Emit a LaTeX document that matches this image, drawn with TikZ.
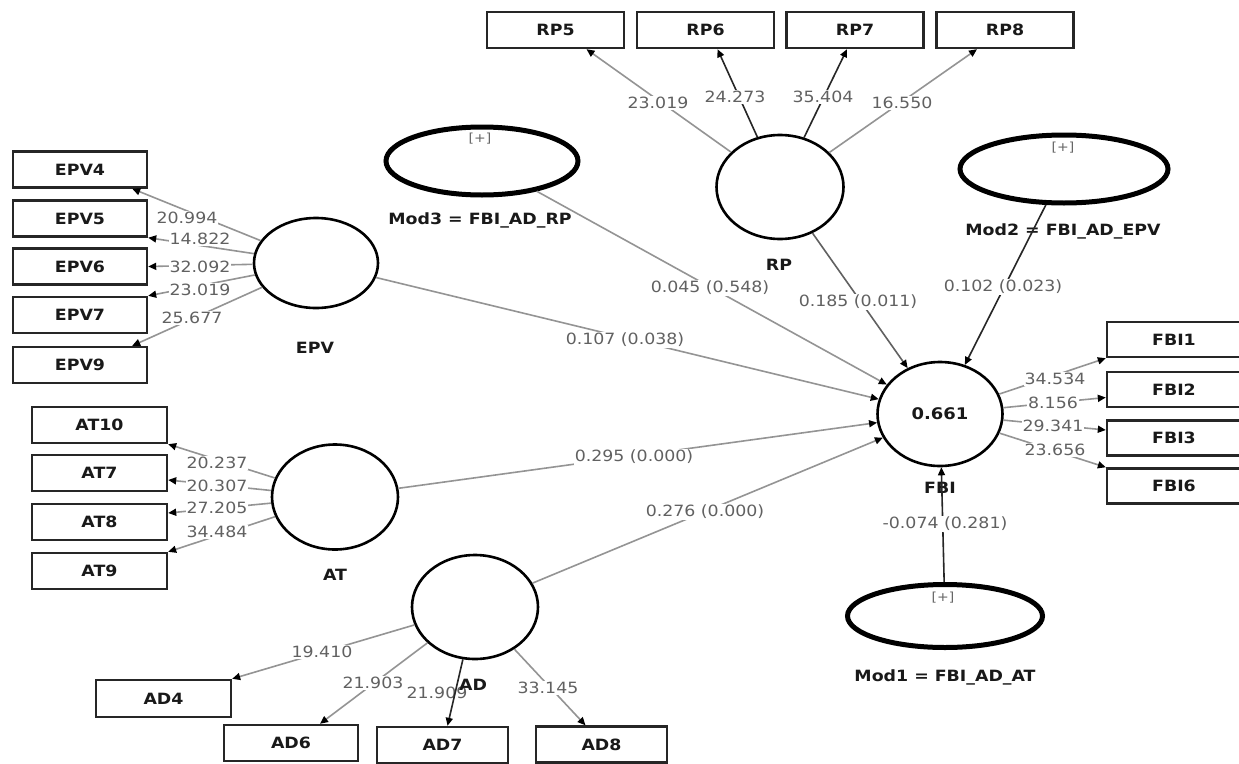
\documentclass[tikz,border=0pt]{standalone}
\usepackage{fontspec}
\setmainfont{DejaVu Sans}[FakeStretch=1.12]
\usetikzlibrary{arrows.meta,shapes.geometric,calc}
\begin{document}
\begin{tikzpicture}[x=1pt,y=-1pt,
  ind/.style={draw=black!85, line width=2.4pt, minimum width=134pt, minimum height=36pt, inner sep=0pt, font=\fontsize{15.5}{18}\selectfont\bfseries, text=black!90},
  lat/.style={ellipse, draw=black, line width=2.6pt, inner sep=0pt},
  moder/.style={ellipse, draw=black, line width=5pt, inner sep=0pt},
  lname/.style={font=\fontsize{15.5}{18}\selectfont\bfseries, text=black!90, inner sep=0pt},
  num/.style={font=\fontsize{15.5}{18}\selectfont, text=black!62, fill=white, inner sep=1pt},
  numnf/.style={font=\fontsize{15.5}{18}\selectfont, text=black!62, inner sep=1pt},
  plus/.style={font=\fontsize{12.5}{13}\selectfont, text=black!60, inner sep=0pt},
  arr/.style={draw=black!42, line width=1.6pt, -{Triangle[length=8pt,width=7pt,color=black]}},
  darr/.style={arr, draw=black!85},
  marr/.style={arr, draw=black!62},
]
\fill[white] (0,0) rectangle (1239,763);
\useasboundingbox (0,0) rectangle (1239,763);

% latent labels (under lines)
\node[lname] (lepv) at (315,348) {EPV};
\node[lname] (lat) at (335,575) {AT};
\node[numnf] (l21909) at (437,693) {21.909};
\node[lname] (lad) at (473,685) {AD};
\node[lname] (lrp) at (779,265) {RP};
\node[lname] (lfbi) at (940,488) {FBI};
\node[lname] (lmod3) at (480,220) {Mod3 = FBI\_AD\_RP};
\node[lname] (lmod2) at (1063,231) {Mod2 = FBI\_AD\_EPV};
\node[lname] (lmod1) at (945,677) {Mod1 = FBI\_AD\_AT};

% indicators
\node[ind] (epv4) at (80,169.5) {EPV4};
\node[ind] (epv5) at (80,218.5) {EPV5};
\node[ind] (epv6) at (80,266.5) {EPV6};
\node[ind] (epv7) at (80,315) {EPV7};
\node[ind] (epv9) at (80,365) {EPV9};
\node[ind,minimum width=135pt] (at10) at (99.5,425) {AT10};
\node[ind,minimum width=135pt] (at7) at (99.5,473) {AT7};
\node[ind,minimum width=135pt] (at8) at (99.5,522) {AT8};
\node[ind,minimum width=135pt] (at9) at (99.5,571) {AT9};
\node[ind,minimum width=137pt] (rp5) at (555.5,30) {RP5};
\node[ind,minimum width=137pt] (rp6) at (705.5,30) {RP6};
\node[ind,minimum width=137pt] (rp7) at (855,30) {RP7};
\node[ind,minimum width=137pt] (rp8) at (1005,30) {RP8};
\node[ind,minimum width=135pt,minimum height=37pt] (ad4) at (163.5,698.5) {AD4};
\node[ind] (ad6) at (291,743) {AD6};
\node[ind,minimum width=131pt] (ad7) at (442.5,745) {AD7};
\node[ind,minimum width=131pt] (ad8) at (601.5,744.5) {AD8};
\node[ind,minimum height=35pt] (fbi1) at (1174,339.5) {FBI1};
\node[ind,minimum height=35pt] (fbi2) at (1174,389.5) {FBI2};
\node[ind,minimum height=35pt] (fbi3) at (1174,438) {FBI3};
\node[ind,minimum height=35pt] (fbi6) at (1174,486) {FBI6};

% constructs
\node[lat,minimum width=124pt,minimum height=90pt] (epv) at (316,263) {};
\node[lat,minimum width=126pt,minimum height=105pt] (at) at (335,497) {};
\node[lat,minimum width=126pt,minimum height=104pt] (ad) at (475,607) {};
\node[lat,minimum width=127pt,minimum height=104pt] (rp) at (780,187) {};
\node[lat,minimum width=125pt,minimum height=104pt,font=\fontsize{16}{18}\selectfont\bfseries,text=black!90] (fbi) at (940,414) {0.661};
\node[moder,minimum width=192pt,minimum height=68pt] (mod3) at (482,161) {};
\node[moder,minimum width=208pt,minimum height=68pt] (mod2) at (1064,169) {};
\node[moder,minimum width=195pt,minimum height=63pt] (mod1) at (945,616) {};
\node[plus] (p3) at (480,139) {[+]};
\node[plus] (p2) at (1063,148) {[+]};
\node[plus] (p1) at (943,598) {[+]};

% loadings
\draw[arr] (epv) -- ($(epv4.south east)+(-16,0)$);
\draw[arr] (epv) -- (epv5.south east);
\draw[arr] (epv) -- (epv6.east);
\draw[arr] (epv) -- (epv7.north east);
\draw[arr] (epv) -- ($(epv9.north east)+(-16,0)$);
\draw[arr] (at) -- (at10.south east);
\draw[arr] (at) -- ($(at7.east)+(0,7)$);
\draw[arr] (at) -- ($(at8.east)+(0,-9)$);
\draw[arr] (at) -- (at9.north east);
\draw[arr] (rp) -- ($(rp5.south)+(31,0)$);
\draw[darr] (rp) -- ($(rp6.south)+(12,0)$);
\draw[darr] (rp) -- ($(rp7.south)+(-8,0)$);
\draw[arr] (rp) -- ($(rp8.south)+(-28,0)$);
\draw[arr] (ad) -- (ad4.north east);
\draw[arr] (ad) -- ($(ad6.north)+(29,0)$);
\draw[darr] (ad) -- ($(ad7.north)+(5,0)$);
\draw[arr] (ad) -- ($(ad8.north)+(-16,0)$);
\draw[arr] (fbi) -- (fbi1.south west);
\draw[arr] (fbi) -- ($(fbi2.west)+(0,8)$);
\draw[arr] (fbi) -- ($(fbi3.west)+(0,-8)$);
\draw[arr] (fbi) -- (fbi6.north west);

% structural paths
\draw[arr] (mod3) -- (fbi);
\draw[arr] (epv) -- (fbi);
\draw[arr] (at) -- (fbi);
\draw[arr] (ad) -- (fbi);
\draw[marr] (rp) -- (fbi);
\draw[darr] (mod2) -- (fbi);
\draw[darr] (mod1) -- (fbi);

% loading values
\node[num] (v1) at (187,218) {20.994};
\node[num] (v2) at (200,239) {14.822};
\node[num] (v3) at (200,267) {32.092};
\node[num] (v4) at (200,290) {23.019};
\node[num] (v5) at (192,318) {25.677};
\node[num] (v6) at (217,463) {20.237};
\node[num] (v7) at (217,486) {20.307};
\node[num] (v8) at (217,508) {27.205};
\node[num] (v9) at (217,532) {34.484};
\node[num] (v10) at (658,103) {23.019};
\node[num] (v11) at (735,97) {24.273};
\node[num] (v12) at (823,97) {35.404};
\node[num] (v13) at (902,103) {16.550};
\node[num] (v14) at (322,652) {19.410};
\node[num] (v15) at (373,683) {21.903};
\node[num] (v16) at (548,688) {33.145};
\node[num] (v17) at (1055,379) {34.534};
\node[num] (v18) at (1053,403) {8.156};
\node[num] (v19) at (1053,426) {29.341};
\node[num] (v20) at (1055,450) {23.656};

% path values
\node[num] (c1) at (710,288) {0.045 (0.548)};
\node[num] (c2) at (625,340) {0.107 (0.038)};
\node[num] (c3) at (634,457) {0.295 (0.000)};
\node[num] (c4) at (705,512) {0.276 (0.000)};
\node[num] (c5) at (858,302) {0.185 (0.011)};
\node[num] (c6) at (1003,287) {0.102 (0.023)};
\node[num] (c7) at (945,524) {-0.074 (0.281)};
\end{tikzpicture}
\end{document}
